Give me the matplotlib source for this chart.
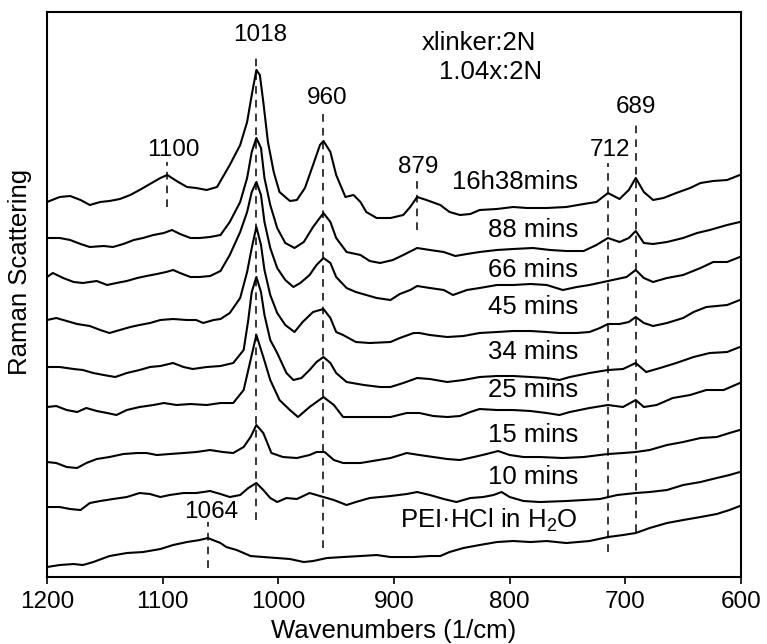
import matplotlib
matplotlib.use("Agg")
import matplotlib.pyplot as plt

plt.rcParams['font.family'] = ['Liberation Sans', 'DejaVu Sans']
plt.rcParams['mathtext.fontset'] = 'custom'
plt.rcParams['mathtext.rm'] = 'Liberation Sans'
plt.rcParams['mathtext.it'] = 'Liberation Sans'

# spectra: wavenumber (1/cm) and intensity (arb. units, stacked)
w1 = [1200, 1189, 1180, 1171, 1163, 1154, 1146, 1137, 1128, 1120, 1111, 1102, 1096, 1088, 1079, 1071,
      1062, 1053, 1050, 1042, 1033, 1027, 1023, 1019, 1016, 1013, 1009, 1004, 999, 990, 984, 977, 970,
      964, 961, 955, 950, 942, 935, 929, 924, 915, 903, 892, 886, 880, 872, 860, 852, 843, 834, 826,
      811, 797, 785, 768, 751, 736, 725, 715, 705, 697, 691, 684, 676, 667, 656, 644, 635, 624, 612, 601]
i1 = [375, 380, 381, 377, 372, 375, 376, 378, 382, 387, 393, 399, 402, 396, 390, 389,
      387, 390, 396, 412, 432, 455, 482, 507, 502, 475, 435, 405, 385, 376, 377, 389, 412,
      432, 436, 425, 402, 380, 382, 375, 365, 359, 359, 362, 370, 380, 377, 372, 365, 362, 363, 367,
      368, 370, 369, 369, 370, 373, 375, 384, 378, 387, 399, 385, 377, 379, 384, 389, 394, 396, 397, 402]

w2 = [1200, 1189, 1180, 1171, 1163, 1151, 1143, 1134, 1125, 1117, 1108, 1099, 1092, 1085, 1076, 1068,
      1059, 1050, 1042, 1033, 1027, 1023, 1019, 1015, 1012, 1007, 1001, 994, 986, 978, 970, 961, 955,
      950, 941, 929, 921, 912, 901, 892, 880, 869, 857, 847, 837, 826, 811, 797, 780, 765, 751, 736,
      725, 715, 705, 697, 691, 684, 676, 664, 650, 638, 627, 612, 601]
i2 = [339, 339, 337, 333, 330, 331, 330, 333, 337, 339, 342, 344, 347, 343, 339, 339,
      340, 342, 355, 375, 399, 425, 439, 429, 399, 372, 349, 334, 329, 335, 350, 364, 355,
      339, 325, 322, 316, 314, 317, 322, 329, 327, 325, 321, 323, 325, 327, 328, 329, 327, 326, 326,
      332, 339, 335, 339, 346, 334, 333, 335, 339, 344, 347, 352, 355]

w3 = [1200, 1195, 1186, 1177, 1169, 1163, 1157, 1148, 1140, 1131, 1122, 1114, 1105, 1097, 1091, 1085,
      1076, 1068, 1059, 1050, 1042, 1033, 1027, 1023, 1019, 1015, 1012, 1007, 1001, 994, 987, 981, 973,
      967, 961, 955, 950, 941, 933, 924, 915, 903, 895, 886, 880, 869, 857, 849, 837, 826, 811, 797,
      782, 768, 754, 742, 731, 719, 707, 699, 691, 684, 676, 664, 650, 635, 624, 612, 601]
i3 = [300, 304, 299, 295, 294, 295, 296, 292, 294, 296, 299, 301, 303, 305, 307, 304,
      300, 300, 301, 306, 322, 345, 365, 385, 395, 382, 355, 329, 309, 297, 290, 294, 302,
      312, 319, 314, 300, 289, 285, 282, 279, 277, 283, 287, 291, 289, 287, 282, 287, 289, 292, 292,
      293, 292, 287, 290, 292, 295, 298, 300, 307, 299, 295, 299, 302, 309, 315, 315, 320]

w4 = [1200, 1192, 1183, 1174, 1163, 1154, 1146, 1137, 1128, 1120, 1111, 1102, 1091, 1079, 1071, 1065,
      1056, 1050, 1042, 1033, 1027, 1023, 1019, 1015, 1012, 1007, 1001, 994, 986, 979, 970, 961, 955,
      950, 944, 933, 921, 903, 895, 883, 878, 869, 854, 840, 826, 811, 797, 782, 768, 757, 742, 731,
      722, 715, 705, 697, 691, 684, 676, 664, 650, 641, 630, 612, 601]
i4 = [257, 259, 256, 253, 251, 247, 244, 247, 250, 252, 254, 257, 258, 257, 257, 254,
      257, 258, 264, 279, 305, 329, 350, 332, 307, 282, 264, 252, 245, 255, 265, 268, 259,
      245, 242, 235, 234, 235, 239, 244, 244, 242, 240, 241, 244, 245, 246, 246, 245, 244, 244, 245,
      249, 253, 253, 255, 260, 254, 251, 254, 259, 265, 270, 272, 277]

w5 = [1200, 1189, 1177, 1169, 1160, 1151, 1141, 1131, 1120, 1111, 1102, 1091, 1082, 1074, 1062, 1050,
      1039, 1030, 1026, 1023, 1019, 1015, 1012, 1007, 1001, 993, 987, 980, 973, 967, 961, 955, 950,
      941, 926, 912, 903, 892, 880, 869, 854, 840, 826, 811, 797, 782, 768, 757, 748, 731, 715, 702,
      691, 682, 670, 656, 641, 627, 612, 601]
i5 = [210, 210, 208, 207, 204, 202, 200, 204, 207, 210, 211, 214, 210, 208, 210, 211,
      214, 227, 257, 285, 300, 285, 262, 237, 224, 204, 197, 199, 207, 215, 220, 214, 204,
      195, 192, 190, 190, 194, 199, 198, 195, 197, 200, 201, 201, 200, 199, 197, 200, 204, 207, 208,
      214, 205, 209, 214, 220, 224, 225, 230]

w6 = [1200, 1192, 1183, 1174, 1166, 1157, 1148, 1140, 1131, 1120, 1108, 1099, 1088, 1076, 1062, 1050,
      1039, 1030, 1024, 1019, 1013, 1007, 999, 990, 983, 973, 961, 952, 944, 929, 903, 889, 878,
      866, 854, 843, 834, 826, 811, 797, 782, 768, 757, 748, 731, 715, 702, 691, 684, 673, 659, 644,
      630, 615, 601]
i6 = [170, 171, 167, 165, 169, 166, 164, 162, 167, 170, 172, 174, 172, 173, 172, 174,
      174, 187, 217, 242, 220, 197, 177, 167, 160, 170, 180, 172, 160, 160, 160, 164, 164,
      161, 160, 161, 165, 168, 167, 167, 166, 164, 162, 165, 169, 172, 170, 177, 170, 172, 179, 182,
      187, 187, 194]

w7 = [1200, 1192, 1183, 1174, 1166, 1157, 1146, 1134, 1122, 1114, 1105, 1094, 1082, 1071, 1059, 1048,
      1039, 1030, 1024, 1019, 1013, 1006, 996, 984, 973, 967, 960, 952, 944, 929, 903, 889, 878,
      866, 854, 843, 831, 820, 810, 800, 788, 774, 754, 736, 715, 702, 691, 679, 664, 650, 635, 621,
      610, 601]
i7 = [115, 114, 110, 109, 114, 118, 120, 123, 124, 124, 122, 123, 124, 125, 127, 125,
      124, 130, 140, 152, 144, 124, 120, 119, 122, 125, 125, 117, 114, 114, 119, 124, 122,
      120, 118, 117, 120, 123, 126, 122, 120, 120, 119, 120, 123, 124, 125, 127, 132, 135, 139, 140,
      144, 147]

w8 = [1200, 1189, 1180, 1171, 1163, 1154, 1143, 1131, 1120, 1111, 1102, 1094, 1082, 1071, 1059, 1050,
      1042, 1033, 1026, 1019, 1013, 1007, 1001, 993, 984, 973, 961, 952, 941, 933, 921, 903, 889,
      880, 869, 857, 846, 834, 823, 814, 807, 800, 788, 774, 751, 736, 722, 707, 691, 679, 664, 650,
      635, 621, 610, 601]
i8 = [70, 70, 68, 67, 74, 76, 78, 80, 84, 83, 80, 82, 84, 84, 86, 83,
      80, 82, 89, 94, 87, 79, 75, 79, 78, 84, 80, 77, 72, 75, 79, 81, 83,
      85, 82, 78, 75, 79, 80, 82, 85, 80, 76, 75, 76, 77, 78, 82, 84, 85, 87, 92,
      95, 99, 102, 105]

w9 = [1200, 1189, 1177, 1169, 1160, 1146, 1131, 1117, 1102, 1091, 1079, 1068, 1061, 1050, 1045, 1036,
      1024, 1013, 1001, 990, 978, 970, 958, 944, 929, 915, 903, 883, 869, 860, 852, 840, 826,
      811, 797, 782, 768, 751, 731, 715, 702, 691, 679, 664, 650, 635, 621, 610, 601]
i9 = [10, 12, 13, 12, 15, 21, 24, 25, 28, 32, 35, 37, 39, 34, 30, 27,
      21, 20, 19, 18, 15, 16, 19, 20, 21, 22, 20, 20, 21, 21, 25, 29, 32,
      35, 36, 35, 36, 34, 36, 40, 42, 44, 49, 54, 57, 60, 63, 67, 71]

spectra_w = [w1, w2, w3, w4, w5, w6, w7, w8, w9]
spectra_i = [i1, i2, i3, i4, i5, i6, i7, i8, i9]

trace_labels = ['16h38mins', '88 mins', '66 mins', '45 mins', '34 mins', '25 mins',
                '15 mins', '10 mins', 'PEI·HCl in H$_2$O']
trace_label_y = [395, 347, 307, 270, 225, 187, 142, 100, 57]

# dashed peak markers: position, bottom, top, label text, label position
peak_x = [1096, 1019, 961, 880, 715, 691, 1061]
peak_lo = [370, 57, 29, 347, 25, 45, 9]
peak_hi = [415, 522, 464, 397, 414, 452, 55]
peak_text = ['1100', '1018', '960', '879', '712', '689', '1064']
peak_text_x = [1091, 1016, 958, 879, 713, 691, 1058]
peak_text_y = [427, 542, 479, 410, 427, 470, 65]

fig = plt.figure(figsize=(7.67, 6.44), dpi=100)
ax = fig.add_axes([0.0613, 0.104, 0.9048, 0.8774])

for w, i in zip(spectra_w, spectra_i):
    ax.plot(w, i, color='black', lw=1.5)

for px, lo, hi in zip(peak_x, peak_lo, peak_hi):
    ax.plot([px, px], [lo, hi], color='black', lw=1.1, ls=(0, (5, 4)))

for t, tx, ty in zip(peak_text, peak_text_x, peak_text_y):
    ax.text(tx, ty, t, ha='center', va='center', fontsize=17.5)

for t, ty in zip(trace_labels, trace_label_y):
    ax.text(741, ty, t, ha='right', va='center', fontsize=18.5)

ax.text(876, 534, 'xlinker:2N', ha='left', va='center', fontsize=18.5)
ax.text(861, 505, '1.04x:2N', ha='left', va='center', fontsize=18.5)

ax.set_xlim(1200, 600)
ax.set_ylim(0, 565)
ax.set_xticks([1200, 1100, 1000, 900, 800, 700, 600])
ax.set_yticks([])
ax.tick_params(axis='x', direction='out', length=5, width=1.2, labelsize=17.5, pad=5)
for s in ax.spines.values():
    s.set_linewidth(1.5)

ax.set_xlabel('Wavenumbers (1/cm)', fontsize=18.5)
ax.set_ylabel('Raman Scattering', fontsize=18.5)
ax.xaxis.set_label_coords(0.5, -0.075)
ax.yaxis.set_label_coords(-0.021, 0.54)

fig.savefig('out.png', dpi=100)
plt.close(fig)
